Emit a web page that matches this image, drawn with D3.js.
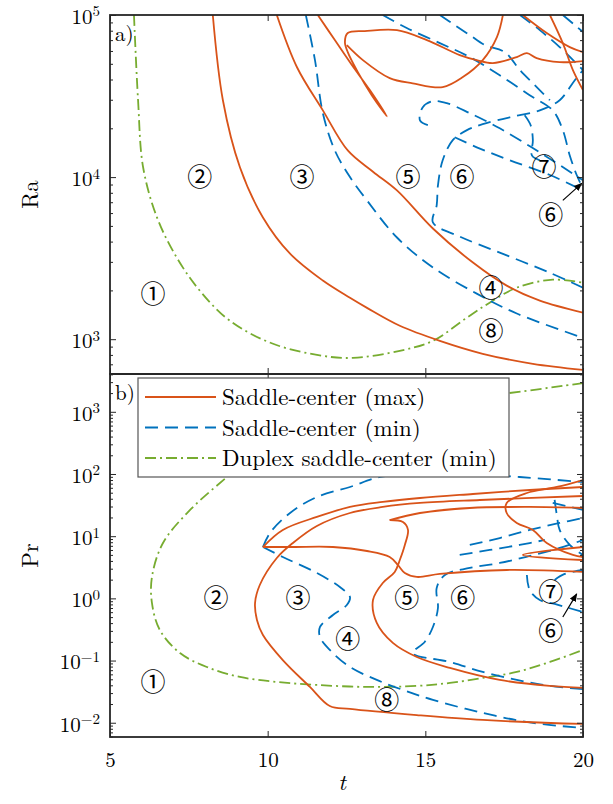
<!DOCTYPE html>
<html>
<head>
<meta charset="utf-8">
<script src="https://cdn.jsdelivr.net/npm/d3@7"></script>
<style>
body { margin: 0; background: #fff; }
</style>
</head>
<body>
<script>
// ---- data: [t, value] ----
var tTicks = [5, 10, 15, 20]
var raTicks = [1e3, 1e4, 1e5]
var prTicks = [1e-2, 1e-1, 1e0, 1e1, 1e2, 1e3]

// panel a) Ra
var raDuplex = [[5.76,100000],[5.89,29800],[6.05,11500],[6.49,5640],[7.12,3180],[7.85,1990],[8.80,1300],[10.17,937],[11.75,789],[12.70,767],[14.19,848],[15.24,977],[16.32,1360],[17.04,1680],[17.90,2080],[19.04,2330],[20,2230]]

var raMax = [
  [[8.26,100000],[8.58,29800],[9.12,11500],[9.85,5640],[10.71,3370],[11.75,2300],[12.61,1800],[13.15,1560],[14.19,1210],[15.46,977],[16.82,813],[18.41,705],[20,647]],
  [[10.29,100000],[10.93,47600],[11.75,25800],[12.54,14600],[13.34,10800],[14.10,8280],[15.24,4820],[16.51,2970],[17.58,2140],[18.63,1730],[20,1460]],
  [[11.59,100000],[12.13,70000],[12.67,49100],[13.24,34400],[13.78,23700],[13.30,32000],[12.86,44400],[12.54,59000],[12.45,68100],[12.54,77400],[13.08,79600],[14.10,80700],[15.05,70000],[16.09,56600],[16.63,52700],[17.14,50500],[17.90,55000],[18.22,58200],[18.53,54200],[19.26,51200],[20,52000]],
  [[17.46,100000],[17.27,73100],[16.82,52700],[16.19,41400],[15.55,35900],[14.60,37900],[13.87,40800],[13.02,52700],[12.51,65200]],
  [[18.09,100000],[18.85,77400],[19.58,63400],[20,59000]],
  [[18.95,100000],[19.36,67100],[19.68,45700],[20,34400]]
]

var raMin = [
  [[11.21,100000],[11.50,52700],[11.75,24800],[12.13,14600],[12.61,10000],[13.15,7180],[14.10,4240],[15.24,2770],[16.63,1910],[17.90,1440],[20,1020]],
  [[20,2080],[18.95,2570],[17.36,3420],[16.09,4300],[15.24,5250],[15.36,6690],[15.40,8890],[15.55,12700],[15.87,16900],[16.32,19500],[16.82,21200],[17.68,23400],[18.63,25800],[19.26,29800],[19.74,39600],[20,45700]],
  [[13.65,100000],[14.41,83100],[15.46,67100],[16.41,55000],[17.36,42500],[18.31,32000],[19.04,25800],[19.36,19500],[19.58,13600],[19.80,10300],[20,8520]],
  [[15.08,20900],[14.83,22400],[14.92,27000],[15.24,29400],[15.68,28600],[16.41,24800],[17.36,20000],[18.63,14200],[20,9550]],
  [[15.93,17600],[16.73,15000],[17.68,12700],[18.95,10300],[20,8280]],
  [[15.46,100000],[15.93,86700],[16.41,75200],[16.89,65200],[17.52,59000],[18.00,45700],[18.47,36900],[18.95,29800]],
  [[18.00,100000],[18.63,80700],[19.26,63400],[20,45700]],
  [[19.36,100000],[19.74,86700],[20,78500]],
  [[18.15,24100],[18.34,20900],[18.41,16900],[18.38,13600],[18.63,12700]]
]

// panel b) Pr
var prDuplex = [[20,2900],[17.65,2000],[14.83,1380],[12.61,889],[11.02,509],[9.75,243],[8.71,89.5],[7.54,26.4],[6.68,7.78],[6.33,2.21],[6.33,0.843],[6.58,0.310],[7.22,0.132],[8.07,0.0789],[9.12,0.0545],[10.29,0.0453],[11.56,0.0405],[13.15,0.0377],[14.73,0.0391],[15.78,0.0437],[16.82,0.0525],[17.90,0.0656],[18.95,0.0949],[20,0.148]]

var prMax = [
  [[20,44.3],[16.73,38.2],[14.83,34.2],[13.65,29.5],[12.61,23.6],[11.56,14.6],[10.80,7.78],[10.29,4.46],[9.75,1.64],[9.60,0.843],[9.66,0.450],[9.85,0.258],[10.48,0.102],[11.34,0.0377],[11.97,0.0186],[12.61,0.0167],[14.73,0.0133],[16.82,0.0111],[20,0.00957]],
  [[9.85,6.70],[10.48,12.6],[11.56,20.4],[12.61,29.5],[13.65,35.5],[14.83,41.1],[16.51,47.7],[18.31,55.3],[20,61.8]],
  [[9.85,6.70],[10.80,6.70],[12.07,6.70],[13.15,5.78],[13.87,4.63],[14.13,3.44],[14.35,2.56],[14.73,2.21],[15.46,2.47],[17.58,2.86],[20,2.66]],
  [[13.87,18.2],[14.29,16.9],[14.45,12.6],[14.35,7.23],[14.19,4.14],[14.03,2.66],[13.65,1.77],[13.34,0.942],[13.46,0.403],[13.97,0.192],[14.73,0.114],[15.78,0.0761],[17.36,0.0488],[18.95,0.0391],[20,0.0363]],
  [[13.87,18.2],[14.83,23.6],[16.41,28.4],[18.31,29.5],[20,28.4]],
  [[20,80.1],[19.17,61.8],[18.22,49.5],[17.58,34.2],[17.58,23.6],[17.90,16.3],[18.41,12.6],[18.85,7.78],[19.68,4.99],[20,4.63]],
  [[20,6.70],[18.09,4.99],[20,4.14]]
]

var prMin = [
  [[9.85,6.70],[10.48,4.63],[11.56,2.56],[12.29,1.52],[12.61,1.05],[12.51,0.783],[12.07,0.541],[11.66,0.347],[11.66,0.239],[11.97,0.148],[12.61,0.0789],[13.46,0.0488],[14.29,0.0337],[15.24,0.0233],[16.82,0.0144],[18.41,0.00993],[20,0.00824]],
  [[9.85,6.70],[10.07,11.2],[10.71,23.6],[11.56,42.7],[12.61,61.8],[13.56,89.5],[15.14,108],[16.73,100],[17.99,89.5],[20,74.3]],
  [[20,0.0349],[18.95,0.0391],[17.90,0.0488],[16.82,0.0656],[15.78,0.0949],[14.60,0.132],[14.98,0.199],[15.24,0.347],[15.40,0.701],[15.36,1.47],[15.62,2.38],[16.41,3.08],[17.36,3.71],[18.31,4.81],[19.26,6.46],[20,8.69]],
  [[16.41,7.23],[17.36,9.35],[18.31,12.6],[19.26,16.3],[20,19.6]],
  [[16.09,4.99],[17.04,6.00],[17.99,7.23],[18.79,8.69]],
  [[19.10,38.2],[19.17,21.9],[19.26,12.6],[19.58,7.23],[20,4.99]],
  [[18.22,2.38],[18.31,1.36],[18.63,0.942],[19.10,0.813],[20,0.604]],
  [[19.10,1.98],[19.42,2.47],[20,2.86]],
  [[19.04,34.2],[20,26.4]]
]

var regionsA = [["①",6.36,1910],["②",7.85,10000],["③",11.09,10000],["⑤",14.45,10000],["⑥",16.16,10000],["⑦",18.76,11500],["⑥",18.98,5800],["④",17.08,2080],["⑧",17.08,1130]]
var regionsB = [["①",6.36,0.0453],["②",8.36,1],["③",10.96,1],["④",12.54,0.222],["⑤",14.41,1],["⑥",16.19,1],["⑦",18.98,1.27],["⑥",18.98,0.299],["⑧",13.78,0.0233]]
var arrowA = [[19.36,7180],[19.96,9150]]
var arrowB = [[19.36,0.502],[19.80,1.18]]

var legendNames = ["Saddle-center (max)", "Saddle-center (min)", "Duplex saddle-center (min)"]

// ---- layout ----
var W = 613, H = 804
var left = 110, right = 583
var topA = 15, bottomA = 374, bottomB = 737
var axisColor = "#262626"
var colors = {max: "#D95319", min: "#0072BD", dup: "#77AC30"}
var dashes = {max: null, min: "13,7", dup: "11,4,2,4"}
var serif = "'Latin Modern Roman', 'CMU Serif', 'DejaVu Serif', serif"

var svg = d3.select("body").append("svg")
  .attr("width", W).attr("height", H)

var xScale = d3.scaleLinear().domain([5, 20]).range([left, right])
var yRa = d3.scaleLog().domain([610, 1e5]).range([bottomA, topA])
var yPr = d3.scaleLog().domain([0.0059, 4055]).range([bottomB, bottomA])

function minorTicks(y) {
  var dom = y.domain(), out = []
  for (var k = -3; k <= 5; k++) {
    for (var m = 2; m <= 9; m++) {
      var v = m * Math.pow(10, k)
      if (v > dom[0] && v < dom[1]) out.push(v)
    }
  }
  return out
}

function supLabels(sel) {
  sel.selectAll(".tick text").each(function(d) {
    var e = Math.round(Math.log10(d))
    var t = d3.select(this).text(null)
    t.append("tspan").text("10")
    t.append("tspan").attr("dy", "-0.5em").attr("font-size", 15)
      .text(e < 0 ? "\u2212" + (-e) : e)
  })
}

function panel(id, y, yTicks, yLabel, showX, maxS, minS, dupS, regions, arrow, tag) {
  var top = y.range()[1], bot = y.range()[0]

  svg.append("clipPath").attr("id", "clip" + id)
    .append("rect").attr("x", left).attr("y", top)
    .attr("width", right - left).attr("height", bot - top)

  var line = d3.line()
    .x(function(d) { return xScale(d[0]) })
    .y(function(d) { return y(d[1]) })
    .curve(d3.curveCatmullRom.alpha(0.5))

  var plot = svg.append("g").attr("clip-path", "url(#clip" + id + ")")

  function drawSet(set, key) {
    plot.append("g").selectAll("path")
      .data(set)
      .enter()
      .append("path")
      .attr("d", line)
      .attr("fill", "none")
      .attr("stroke", colors[key])
      .attr("stroke-width", 1.8)
      .attr("stroke-dasharray", dashes[key])
  }
  drawSet([dupS], "dup")
  drawSet(minS, "min")
  drawSet(maxS, "max")

  // region numbers
  svg.append("g").selectAll("text")
    .data(regions)
    .enter()
    .append("text")
    .attr("x", function(d) { return xScale(d[1]) })
    .attr("y", function(d) { return y(d[2]) })
    .attr("dy", "0.36em")
    .attr("text-anchor", "middle")
    .attr("font-family", "'Noto Sans CJK JP', 'DejaVu Sans', sans-serif")
    .attr("font-size", 25)
    .attr("fill", "#000")
    .text(function(d) { return d[0] })

  // arrow
  svg.append("line")
    .attr("x1", xScale(arrow[0][0])).attr("y1", y(arrow[0][1]))
    .attr("x2", xScale(arrow[1][0])).attr("y2", y(arrow[1][1]))
    .attr("stroke", "#000").attr("stroke-width", 1.2)
    .attr("marker-end", "url(#arrowhead)")

  // y axes (ticks inside)
  var yl = svg.append("g").attr("transform", "translate(" + left + ",0)")
    .call(d3.axisLeft(y).tickValues(yTicks).tickSize(-6).tickSizeOuter(0).tickPadding(10))
  supLabels(yl)
  yl.attr("font-family", serif).attr("font-size", 21)
  yl.selectAll(".tick text").attr("fill", "#000").attr("dy", "0.4em")
  svg.append("g").attr("transform", "translate(" + left + ",0)")
    .call(d3.axisLeft(y).tickValues(minorTicks(y)).tickSize(-3).tickSizeOuter(0).tickFormat(""))
  svg.append("g").attr("transform", "translate(" + right + ",0)")
    .call(d3.axisRight(y).tickValues(yTicks).tickSize(-6).tickSizeOuter(0).tickFormat(""))
  svg.append("g").attr("transform", "translate(" + right + ",0)")
    .call(d3.axisRight(y).tickValues(minorTicks(y)).tickSize(-3).tickSizeOuter(0).tickFormat(""))

  // x axes
  var xb = svg.append("g").attr("transform", "translate(0," + bot + ")")
    .call(d3.axisBottom(xScale).tickValues(tTicks).tickSize(-6).tickSizeOuter(0).tickPadding(15)
      .tickFormat(showX ? d3.format("d") : ""))
  xb.attr("font-family", serif).attr("font-size", 21)
  xb.selectAll(".tick text").attr("fill", "#000")
  svg.append("g").attr("transform", "translate(0," + top + ")")
    .call(d3.axisTop(xScale).tickValues(tTicks).tickSize(-6).tickSizeOuter(0).tickFormat(""))

  svg.selectAll(".domain").remove()
  svg.selectAll(".tick line").attr("stroke", axisColor).attr("stroke-width", 1)

  // frame
  svg.append("rect")
    .attr("x", left).attr("y", top)
    .attr("width", right - left).attr("height", bot - top)
    .attr("fill", "none").attr("stroke", axisColor).attr("stroke-width", 1.8)

  svg.append("text")
    .attr("transform", "translate(38," + ((top + bot) / 2) + ") rotate(-90)")
    .attr("text-anchor", "middle")
    .attr("font-family", serif).attr("font-size", 23)
    .text(yLabel)

  svg.append("text")
    .attr("x", left + 5).attr("y", top + 26)
    .attr("font-family", serif).attr("font-size", 21)
    .text(tag)
}

svg.append("defs").append("marker")
  .attr("id", "arrowhead")
  .attr("viewBox", "0 0 10 10")
  .attr("refX", 9).attr("refY", 5)
  .attr("markerWidth", 7).attr("markerHeight", 7)
  .attr("orient", "auto")
  .append("path").attr("d", "M0,1 L10,5 L0,9 Z").attr("fill", "#000")

panel("A", yRa, raTicks, "Ra", false, raMax, raMin, raDuplex, regionsA, arrowA, "a)")
panel("B", yPr, prTicks, "Pr", true, prMax, prMin, prDuplex, regionsB, arrowB, "b)")

svg.append("text")
  .attr("x", 342).attr("y", 790)
  .attr("text-anchor", "middle")
  .attr("font-family", serif).attr("font-style", "italic").attr("font-size", 23)
  .text("t")

// legend
var lg = svg.append("g")
lg.append("rect")
  .attr("x", 138).attr("y", 378).attr("width", 371).attr("height", 99)
  .attr("fill", "#fff").attr("stroke", "#555").attr("stroke-width", 1.2)
var keys = ["max", "min", "dup"]
var items = lg.selectAll(".item")
  .data(legendNames)
  .enter()
  .append("g")
  .attr("transform", function(d, i) { return "translate(0," + (397 + i * 30.5) + ")" })
items.append("line")
  .attr("x1", 145).attr("x2", 216)
  .attr("stroke", function(d, i) { return colors[keys[i]] })
  .attr("stroke-width", 1.8)
  .attr("stroke-dasharray", function(d, i) { return dashes[keys[i]] })
items.append("text")
  .attr("x", 222).attr("dy", "0.35em")
  .attr("font-family", serif).attr("font-size", 23)
  .text(function(d) { return d })
</script>
</body>
</html>
